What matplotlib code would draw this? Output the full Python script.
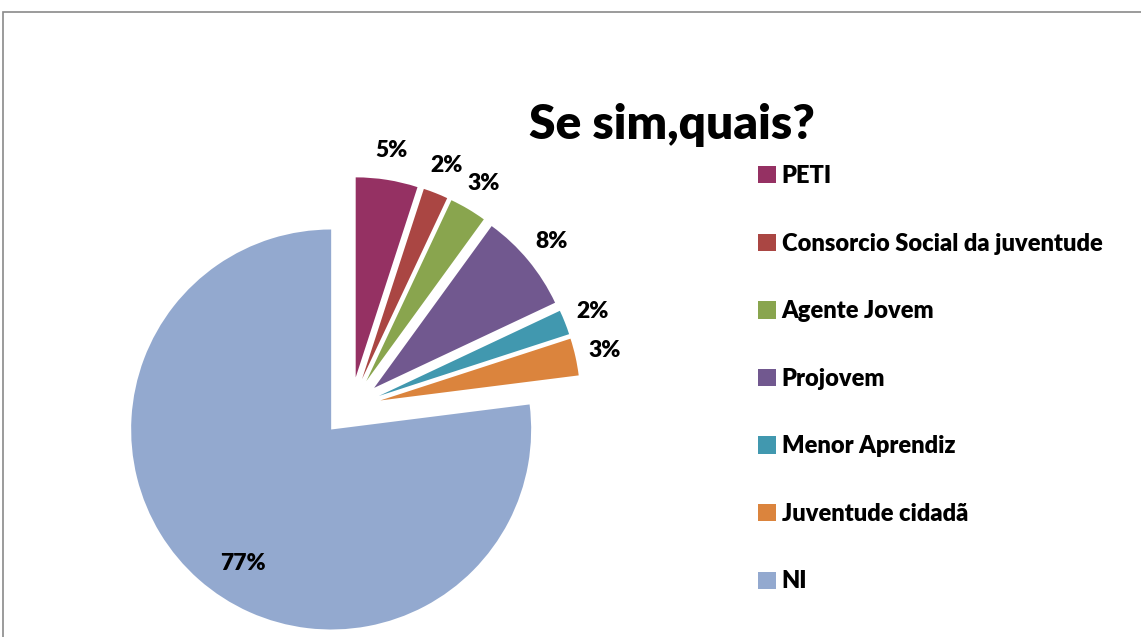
import numpy as np
import matplotlib
matplotlib.use("Agg")
import matplotlib.pyplot as plt
from matplotlib.patches import Rectangle

plt.rcParams['font.family'] = ['Lato', 'DejaVu Sans']

# data
categories = ['PETI', 'Consorcio Social da juventude', 'Agente Jovem', 'Projovem',
              'Menor Aprendiz', 'Juventude cidadã', 'NI']
values = [5, 2, 3, 8, 2, 3, 77]
colors = ['#953163', '#AA4643', '#89A54E', '#71588F', '#4198AF', '#DB843D', '#93A9CF']

W, H = 1141, 637
fig = plt.figure(figsize=(W / 100, H / 100), dpi=100)
ax = fig.add_axes([0, 0, 1, 1])

# pie centre / radius in pixels, used to build the axis limits
cx, cy, rpx = 351, 407, 200

explode = [0.15] * len(values)
wedges, _ = ax.pie(values, colors=colors, startangle=90, counterclock=False,
                   explode=explode, radius=1, center=(0, 0), frame=True)
ax.set_xlim(-cx / rpx, (W - cx) / rpx)
ax.set_ylim(-(H - cy) / rpx, cy / rpx)
ax.set_aspect('equal')
ax.axis('off')

# percent labels, outside for small slices, inside for the large one
total = sum(values)
for w, v in zip(wedges, values):
    mid = (w.theta1 + w.theta2) / 2
    ox, oy = w.center
    if v < 50:
        d = 1.15
    else:
        d = 0.8
        mid += 8
    mid = np.deg2rad(mid)
    ax.text(ox + d * np.cos(mid), oy + d * np.sin(mid), f'{round(100 * v / total)}%',
            ha='center', va='center', fontsize=16.5, fontweight='heavy')

fig.text(672 / W, 1 - 125 / H, 'Se sim,quais?', ha='center', va='center',
         fontsize=34.5, fontweight='heavy')

leg = ax.legend(wedges, categories, loc='upper left',
                bbox_to_anchor=(758 / W, 1 - 165 / H), bbox_transform=fig.transFigure,
                frameon=False, prop={'size': 17, 'weight': 'heavy'},
                handlelength=0.75, handleheight=0.75, handletextpad=0.25,
                labelspacing=1.93, borderpad=0, borderaxespad=0)

# outer chart frame
fig.patches.append(Rectangle((3 / W, -0.1), 1.2, 1 - 12 / H + 0.1, transform=fig.transFigure,
                             fill=False, edgecolor='#8a8a8a', linewidth=1.2))

fig.savefig('out.png', dpi=100)
